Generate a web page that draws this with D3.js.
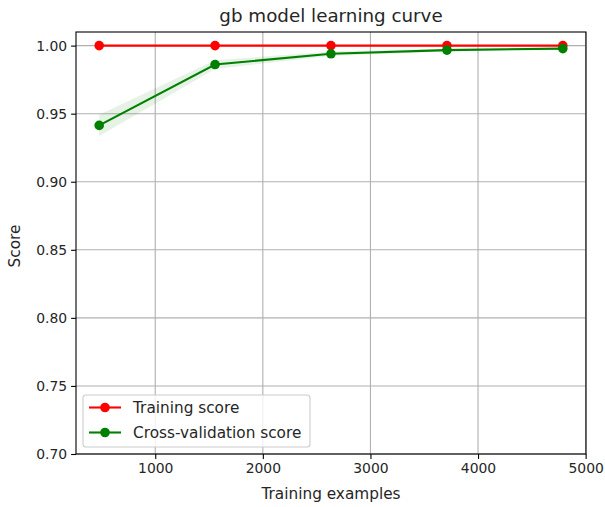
<!DOCTYPE html>
<html>
<head>
<meta charset="utf-8">
<script src="https://cdn.jsdelivr.net/npm/d3@7"></script>
<style>
  html, body { margin: 0; padding: 0; background: #ffffff; }
  svg { display: block; font-family: "DejaVu Sans", sans-serif; }
</style>
</head>
<body>
<svg id="chart" width="605" height="507"></svg>
<script>
// Learning curve of the gradient boosting model
const trainSizes = [479, 1556, 2633, 3711, 4788];
const trainMean = [1.0, 1.0, 1.0, 1.0, 1.0];
const trainStd = [0.0, 0.0, 0.0, 0.0, 0.0];
const cvMean = [0.9414, 0.9861, 0.9940, 0.9967, 0.9978];
const cvStd = [0.0078, 0.0032, 0.0016, 0.0011, 0.0008];
const xTicks = [1000, 2000, 3000, 4000, 5000];
const yTicks = [0.70, 0.75, 0.80, 0.85, 0.90, 0.95, 1.00];
const yLimits = [0.70, 1.01];

const svg = d3.select("#chart");
const plotLeft = 76, plotRight = 586, plotTop = 32, plotBottom = 454;
const tickFont = 13.9, labelFont = 15.3, titleFont = 18.3;

// 5% padding on each side of the training sizes
const span = d3.max(trainSizes) - d3.min(trainSizes);
const x = d3.scaleLinear()
  .domain([d3.min(trainSizes) - 0.05 * span, d3.max(trainSizes) + 0.05 * span])
  .range([plotLeft, plotRight]);
const y = d3.scaleLinear().domain(yLimits).range([plotBottom, plotTop]);

// grid
const grid = svg.append("g").attr("stroke", "#b0b0b0").attr("stroke-width", 1.1);
xTicks.forEach(t => grid.append("line")
  .attr("x1", x(t)).attr("x2", x(t)).attr("y1", plotTop).attr("y2", plotBottom));
yTicks.forEach(t => grid.append("line")
  .attr("x1", plotLeft).attr("x2", plotRight).attr("y1", y(t)).attr("y2", y(t)));

// std bands
const band = (mean, std) => d3.area()
  .x((d, i) => x(trainSizes[i]))
  .y0((d, i) => y(mean[i] - std[i]))
  .y1((d, i) => y(mean[i] + std[i]));
svg.append("path").datum(trainMean)
  .attr("d", band(trainMean, trainStd))
  .attr("fill", "#ff0000").attr("fill-opacity", 0.1);
svg.append("path").datum(cvMean)
  .attr("d", band(cvMean, cvStd))
  .attr("fill", "#008000").attr("fill-opacity", 0.1);

// lines with markers
const series = [
  { name: "Training score", values: trainMean, color: "#ff0000" },
  { name: "Cross-validation score", values: cvMean, color: "#008000" }
];
const line = d3.line().x((d, i) => x(trainSizes[i])).y(d => y(d));
series.forEach(s => {
  svg.append("path").datum(s.values)
    .attr("d", line).attr("fill", "none")
    .attr("stroke", s.color).attr("stroke-width", 2.1);
  svg.append("g").selectAll("circle").data(s.values).join("circle")
    .attr("cx", (d, i) => x(trainSizes[i])).attr("cy", d => y(d))
    .attr("r", 4.8).attr("fill", s.color);
});

// axes
const xAxis = svg.append("g").attr("transform", `translate(0,${plotBottom})`)
  .call(d3.axisBottom(x).tickValues(xTicks).tickSize(4.9).tickPadding(4).tickFormat(d3.format("d")));
const yAxis = svg.append("g").attr("transform", `translate(${plotLeft},0)`)
  .call(d3.axisLeft(y).tickValues(yTicks).tickSize(4.9).tickPadding(4).tickFormat(d3.format(".2f")));
[xAxis, yAxis].forEach(a => {
  a.select(".domain").remove();
  a.selectAll("line").attr("stroke", "#000").attr("stroke-width", 1.1);
  a.selectAll("text").attr("font-size", tickFont).attr("fill", "#262626")
    .attr("font-family", "DejaVu Sans, sans-serif");
});

// frame
svg.append("rect").attr("x", plotLeft).attr("y", plotTop)
  .attr("width", plotRight - plotLeft).attr("height", plotBottom - plotTop)
  .attr("fill", "none").attr("stroke", "#000").attr("stroke-width", 1.1);

// titles
svg.append("text").attr("x", (plotLeft + plotRight) / 2).attr("y", 22)
  .attr("text-anchor", "middle").attr("font-size", titleFont).attr("fill", "#262626")
  .text("gb model learning curve");
svg.append("text").attr("x", (plotLeft + plotRight) / 2).attr("y", 499)
  .attr("text-anchor", "middle").attr("font-size", labelFont).attr("fill", "#262626")
  .text("Training examples");
svg.append("text").attr("transform", `translate(20,246) rotate(-90)`)
  .attr("text-anchor", "middle").attr("font-size", labelFont).attr("fill", "#262626")
  .text("Score");

// legend
const lg = svg.append("g").attr("transform", "translate(83,395)");
lg.append("rect").attr("width", 227).attr("height", 52).attr("rx", 3)
  .attr("fill", "#ffffff").attr("fill-opacity", 0.8)
  .attr("stroke", "#cccccc").attr("stroke-width", 1.1);
series.forEach((s, i) => {
  const cy = 12.5 + i * 25;
  lg.append("line").attr("x1", 6).attr("x2", 38).attr("y1", cy).attr("y2", cy)
    .attr("stroke", s.color).attr("stroke-width", 2.1);
  lg.append("circle").attr("cx", 22).attr("cy", cy).attr("r", 4.8).attr("fill", s.color);
  lg.append("text").attr("x", 50).attr("y", cy + 5.5)
    .attr("font-size", labelFont).attr("fill", "#262626").text(s.name);
});
</script>
</body>
</html>
